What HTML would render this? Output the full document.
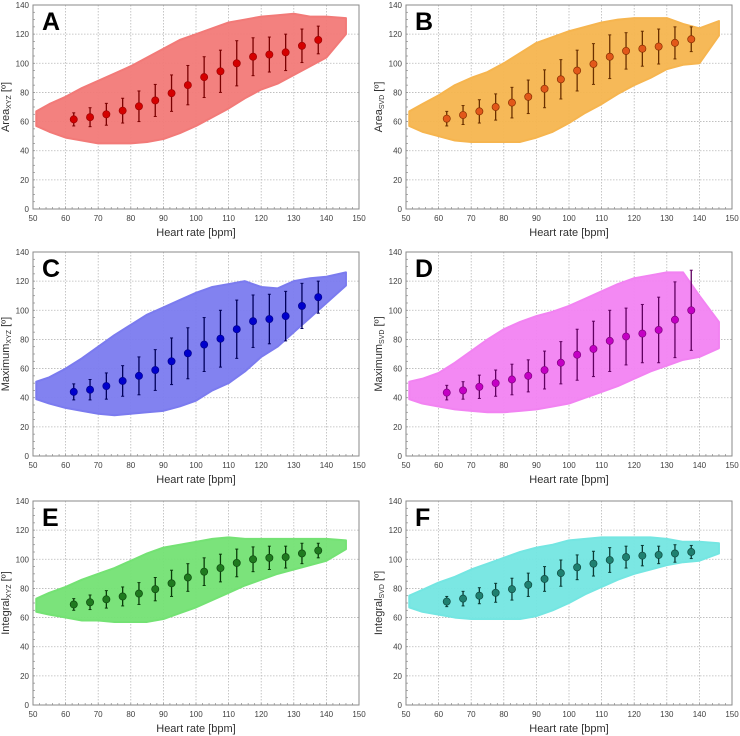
<!DOCTYPE html>
<html><head><meta charset="utf-8"><style>
html,body{margin:0;padding:0;background:#fff}
svg{display:block;font-family:"Liberation Sans",sans-serif}
</style></head><body>
<svg id="fig" width="740" height="736" viewBox="0 0 740 736"></svg>
<script>
const categories=[62.5,67.5,72.5,77.5,82.5,87.5,92.5,97.5,102.5,107.5,112.5,117.5,122.5,127.5,132.5,137.5];
const cloudX=[51,55,60,65,70,75,80,85,90,95,100,105,110,115,120,125,130,135,140,146];
const xTicks=[50,60,70,80,90,100,110,120,130,140,150];
const yTicks=[0,20,40,60,80,100,120,140];

const meanA=[61.5,63,65,67.5,70.5,74.5,79.5,85,90.5,94.5,100,104.5,106,107.5,112,116];
const errA=[4.5,6.5,7.5,8.5,10.5,11,12.5,13.5,14,14.5,15.5,13,12,12.5,11.5,9.5];
const upA=[67,72,77,83,88,93,98,104,110,116,120,124,128,130,132,133,134,132,132,131];
const loA=[57,53,49,47,45,45,45,46,48,52,57,63,69,76,82,86,92,98,104,120];

const meanB=[62,64.5,67,70,73,77,82.5,89,95,99.5,104.5,108.5,110,111.5,114,116.5];
const errB=[5,6.5,8,9,10.5,11.5,13,13.5,14,14,15,12.5,12,12,11,8.5];
const upB=[67,72,78,85,90,94,100,107,114,118,122,125,128,130,131,131,131,127,124,129];
const loB=[57,53,50,47,46,46,46,46,49,53,59,66,72,79,85,90,96,99,100,119];

const meanC=[44,45.5,48,51.5,55,59,65,70.5,76.5,80.5,87,92.5,94,96,103,109];
const errC=[5.5,7,9,10.5,13,14,16,17.5,18.5,19.5,20,18,17,17,15.5,11];
const upC=[51,54,60,67,75,83,90,97,102,107,112,116,118,120,116,115,120,122,123,126];
const loC=[39,36,33,31,29,28,29,30,31,34,38,45,50,58,68,75,85,95,105,117];

const meanD=[43.5,45,47.5,50,52.5,55,59,64,69.5,73.5,79,82,84,86.5,93.5,100];
const errD=[5,6,8,9,10.5,11,13,14.5,17.5,19,21,19.5,20,22.5,26,27.5];
const upD=[51,53,57,64,72,80,87,92,96,99,103,108,113,118,122,124,126,126,110,92];
const loD=[39,36,34,32,31,30,30,31,32,34,36,40,44,48,53,58,62,66,68,74];

const meanE=[69,70.5,72.5,74.5,76.5,79.5,83.5,87.5,91.5,94,97.5,100,101,101.5,104,106];
const errE=[4,5,6,6.5,7.5,8,9,9.5,9.5,9.5,9.5,8.5,8,7.5,7,5];
const upE=[73,77,81,86,90,94,99,104,108,110,112,114,115,114,114,114,114,114,114,113];
const loE=[64,62,60,58,58,57,57,57,59,63,67,72,77,82,86,90,93,96,99,107];

const meanF=[71,73,75,77,79.5,82.5,86.5,90.5,94.5,97,99.5,101.5,102.5,103,104,105];
const errF=[3.5,5,5.5,6.5,7.5,8,8.5,9,8.5,8.5,8.5,7.5,7,6,6,4.5];
const upF=[75,79,84,88,93,97,101,105,108,110,113,114,115,115,115,115,114,112,112,111];
const loF=[67,64,62,60,59,59,59,59,61,65,70,76,81,86,90,93,96,98,99,104];

const NS="http://www.w3.org/2000/svg";
const fig=document.getElementById('fig');
function mk(tag,attrs,parent,text){const e=document.createElementNS(NS,tag);for(const k in attrs)e.setAttribute(k,attrs[k]);if(text!==undefined)e.textContent=text;(parent||fig).appendChild(e);return e;}

const panels=[
 {id:'a',L:'A',x0:33,y0:5,name:'Area',sub:'XYZ',mean:meanA,err:errA,up:upA,lo:loA,cloud:'#f27a78',mk:'#d40000',mks:'#a00000',eb:'#7a0000'},
 {id:'b',L:'B',x0:406,y0:5,name:'Area',sub:'SVD',mean:meanB,err:errB,up:upB,lo:loB,cloud:'#f6b54f',mk:'#e2581a',mks:'#8a3000',eb:'#6a3000'},
 {id:'c',L:'C',x0:33,y0:252,name:'Maximum',sub:'XYZ',mean:meanC,err:errC,up:upC,lo:loC,cloud:'#7b7bef',mk:'#0000cc',mks:'#000090',eb:'#00005a'},
 {id:'d',L:'D',x0:406,y0:252,name:'Maximum',sub:'SVD',mean:meanD,err:errD,up:upD,lo:loD,cloud:'#f283f2',mk:'#c400c4',mks:'#800080',eb:'#600060'},
 {id:'e',L:'E',x0:33,y0:501,name:'Integral',sub:'XYZ',mean:meanE,err:errE,up:upE,lo:loE,cloud:'#74e274',mk:'#1f7a1f',mks:'#0e4a0e',eb:'#0a3a0a'},
 {id:'f',L:'F',x0:406,y0:501,name:'Integral',sub:'SVD',mean:meanF,err:errF,up:upF,lo:loF,cloud:'#74e6e2',mk:'#1f8070',mks:'#0e4a40',eb:'#0a3a34'}
];
const W=326,H=204;
panels.forEach(p=>{
  const g=mk('g',{});
  
  
  const sx=v=>p.x0+(v-50)/100*W;
  const sy=v=>p.y0+H-v/140*H;
  xTicks.forEach(t=>{
    if(t>50&&t<150){const l=mk('line',{x1:sx(t),x2:sx(t),y1:p.y0,y2:p.y0+H,stroke:'#b8b8b8','stroke-width':0.8,'stroke-dasharray':'1.5,1.5'},g);
    }
    const tl=mk('text',{x:sx(t),y:p.y0+H+12,'font-size':8,'text-anchor':'middle',fill:'#404040'},g,String(t));
    
  });
  yTicks.forEach(t=>{
    if(t>0&&t<140){const l=mk('line',{x1:p.x0,x2:p.x0+W,y1:sy(t),y2:sy(t),stroke:'#b8b8b8','stroke-width':0.8,'stroke-dasharray':'1.5,1.5'},g);
    }
    const tl=mk('text',{x:p.x0-4,y:sy(t)+3,'font-size':8,'text-anchor':'end',fill:'#404040'},g,String(t));
    
  });
  let pts=[];
  cloudX.forEach((x,i)=>pts.push(sx(x)+','+sy(p.up[i])));
  for(let i=cloudX.length-1;i>=0;i--)pts.push(sx(cloudX[i])+','+sy(p.lo[i]));
  const cl=mk('polygon',{points:pts.join(' '),fill:p.cloud,stroke:p.cloud,'stroke-width':2,'stroke-linejoin':'round','fill-opacity':0.95},g);
  
  const fr=mk('rect',{x:p.x0,y:p.y0,width:W,height:H,fill:'none',stroke:'#8a8a8a','stroke-width':1},g);
  
  for(let t=52;t<150;t+=2){mk('line',{x1:sx(t),x2:sx(t),y1:p.y0+H,y2:p.y0+H-2,stroke:'#8a8a8a','stroke-width':0.7},g);}
  for(let t=5;t<140;t+=5){mk('line',{x1:p.x0,x2:p.x0+2,y1:sy(t),y2:sy(t),stroke:'#8a8a8a','stroke-width':0.7},g);}
  categories.forEach((c,i)=>{
    const e=mk('line',{x1:sx(c),x2:sx(c),y1:sy(p.mean[i]-p.err[i]),y2:sy(p.mean[i]+p.err[i]),stroke:p.eb,'stroke-width':1.3},g);
    
    [p.mean[i]-p.err[i],p.mean[i]+p.err[i]].forEach(v=>mk('line',{x1:sx(c)-1.5,x2:sx(c)+1.5,y1:sy(v),y2:sy(v),stroke:p.eb,'stroke-width':1},g));
    const m=mk('circle',{cx:sx(c),cy:sy(p.mean[i]),r:3.6,fill:p.mk,stroke:p.mks,'stroke-width':0.7},g);
    
  });
  const lt=mk('text',{x:p.x0+9,y:p.y0+25,'font-size':25,'font-weight':'bold',fill:'#000'},g,p.L);
  
  const xl=mk('text',{x:p.x0+W/2,y:p.y0+H+27,'font-size':11,'text-anchor':'middle',fill:'#303030'},g,'Heart rate [bpm]');
  
  const yl=mk('text',{transform:'translate('+(p.x0-24)+','+(p.y0+H/2)+') rotate(-90)','font-size':11,'text-anchor':'middle',fill:'#303030'},g);
  
  mk('tspan',{},yl,p.name);
  mk('tspan',{'font-size':7,dy:2},yl,p.sub);
  mk('tspan',{dy:-2},yl,' [º]');
});
</script>
</body></html>
